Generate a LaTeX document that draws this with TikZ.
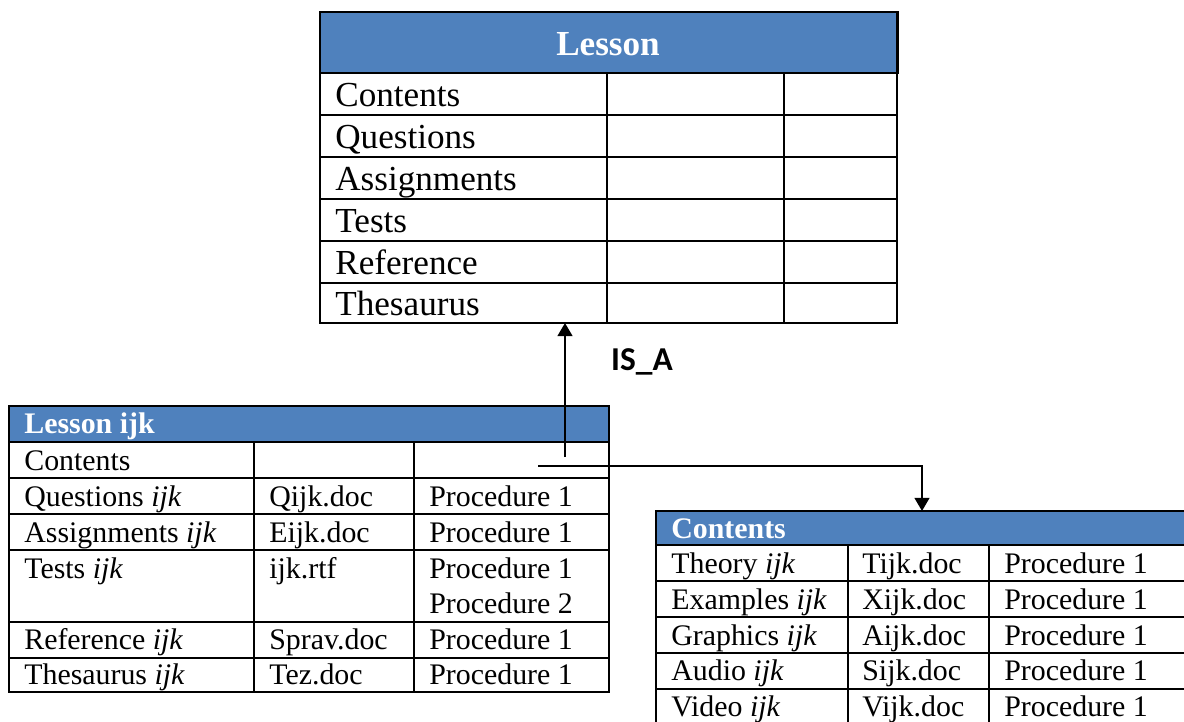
\documentclass[tikz,border=0pt]{standalone}
\usepackage{fontspec}
\setmainfont{Liberation Serif}
\newfontfamily\labelfont{Carlito}
\usetikzlibrary{arrows.meta}

\definecolor{headblue}{HTML}{4F81BD}

\tikzset{
    grid line/.style={line width=1.1pt},
    head box/.style={fill=headblue, draw=black, line width=1.1pt},
    big cell/.style={anchor=west, inner sep=0pt, text height=17pt, text depth=3.8pt, font=\fontsize{20}{24}\selectfont},
    small cell/.style={anchor=west, inner sep=0pt, text height=14.5pt, text depth=3.2pt, font=\fontsize{17}{20}\selectfont},
    head text/.style={text=white, inner sep=0pt, font=\bfseries\fontsize{17}{20}\selectfont},
    link/.style={line width=1.1pt, -{Triangle[length=7.5pt,width=8.5pt]}},
}

\begin{document}
\begin{tikzpicture}[x=0.02cm, y=-0.02cm]
    \path[use as bounding box, clip] (0,0) rectangle (1184,721);

    % lesson table
    \filldraw[head box, line width=1.7pt] (320,12) rectangle (897,73);
    \node[head text, font=\bfseries\fontsize{20}{24}\selectfont] (lessonHead) at (608,44) {Lesson};
    \draw[grid line] (320,73) rectangle (897,323);
    \foreach \y in {115,157,199,241,283}
        \draw[grid line] (320,\y) -- (897,\y);
    \draw[grid line] (607,73) -- (607,323);
    \draw[grid line] (784,73) -- (784,323);
    \coordinate (lessonSW) at (320,323);
    \node[big cell] (lessonA) at (335,95) {Contents};
    \node[big cell] (lessonB) at (335,137) {Questions};
    \node[big cell] (lessonC) at (335,179) {Assignments};
    \node[big cell] (lessonD) at (335,221) {Tests};
    \node[big cell] (lessonE) at (335,263) {Reference};
    \node[big cell] (lessonF) at (335,304) {Thesaurus};

    % lesson ijk table
    \filldraw[head box] (9,406) rectangle (609,442);
    \node[head text, anchor=west] (ijkHead) at (24,426) {Lesson ijk};
    \draw[grid line] (9,442) rectangle (609,692);
    \foreach \y in {478,514,550,622,658}
        \draw[grid line] (9,\y) -- (609,\y);
    \draw[grid line] (254,442) -- (254,692);
    \draw[grid line] (414,442) -- (414,692);
    \node[small cell] (ijkA) at (24,461) {Contents};
    \node[small cell] (ijkB) at (24,497) {Questions \textit{ijk}};
    \node[small cell] (ijkC) at (24,533) {Assignments \textit{ijk}};
    \node[small cell] (ijkD) at (24,569) {Tests \textit{ijk}};
    \node[small cell] (ijkE) at (24,640) {Reference \textit{ijk}};
    \node[small cell] (ijkF) at (24,675) {Thesaurus \textit{ijk}};
    \node[small cell] (ijkB2) at (269,497) {Qijk.doc};
    \node[small cell] (ijkC2) at (269,533) {Eijk.doc};
    \node[small cell] (ijkD2) at (269,569) {ijk.rtf};
    \node[small cell] (ijkE2) at (269,640) {Sprav.doc};
    \node[small cell] (ijkF2) at (269,675) {Tez.doc};
    \node[small cell] (ijkB3) at (429,497) {Procedure 1};
    \node[small cell] (ijkC3) at (429,533) {Procedure 1};
    \node[small cell] (ijkD3) at (429,569) {Procedure 1};
    \node[small cell] (ijkD4) at (429,604) {Procedure 2};
    \node[small cell] (ijkE3) at (429,640) {Procedure 1};
    \node[small cell] (ijkF3) at (429,675) {Procedure 1};

    % contents table
    \filldraw[head box] (656,511) rectangle (1200,545);
    \node[head text, anchor=west] (contHead) at (671,529) {Contents};
    \draw[grid line] (656,545) rectangle (1200,740);
    \foreach \y in {581,617,653,689}
        \draw[grid line] (656,\y) -- (1200,\y);
    \draw[grid line] (848,545) -- (848,740);
    \draw[grid line] (989,545) -- (989,740);
    \coordinate (contNW) at (656,511);
    \node[small cell] (contA) at (671,564) {Theory \textit{ijk}};
    \node[small cell] (contB) at (671,600) {Examples \textit{ijk}};
    \node[small cell] (contC) at (671,636) {Graphics \textit{ijk}};
    \node[small cell] (contD) at (671,671) {Audio \textit{ijk}};
    \node[small cell] (contE) at (671,707) {Video \textit{ijk}};
    \node[small cell] (contA2) at (862,564) {Tijk.doc};
    \node[small cell] (contB2) at (862,600) {Xijk.doc};
    \node[small cell] (contC2) at (862,636) {Aijk.doc};
    \node[small cell] (contD2) at (862,671) {Sijk.doc};
    \node[small cell] (contE2) at (862,707) {Vijk.doc};
    \node[small cell] (contA3) at (1004,564) {Procedure 1};
    \node[small cell] (contB3) at (1004,600) {Procedure 1};
    \node[small cell] (contC3) at (1004,636) {Procedure 1};
    \node[small cell] (contD3) at (1004,671) {Procedure 1};
    \node[small cell] (contE3) at (1004,707) {Procedure 1};

    % links
    \coordinate (isaStart) at (565,457);
    \draw[link] (isaStart) -- (isaStart |- lessonSW);
    \node[font=\labelfont\bfseries\fontsize{19}{23}\selectfont] (isaLabel) at (642,362) {IS\_A};
    \coordinate (linkStart) at (538,466);
    \coordinate (linkTurn) at (922,466);
    \draw[link, line width=0.9pt] (linkStart) -- (linkTurn) -- (linkTurn |- contNW);
\end{tikzpicture}
\end{document}
